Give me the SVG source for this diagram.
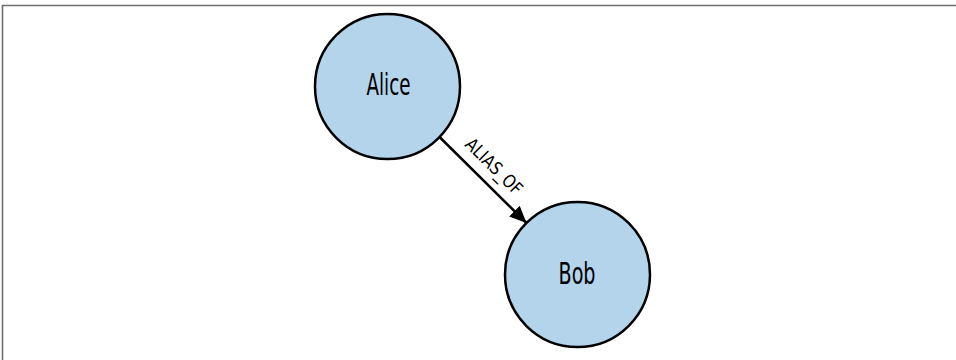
<svg xmlns="http://www.w3.org/2000/svg" width="956" height="360" viewBox="0 0 956 360">
  <style>
    .node circle { fill: #b3d4ea; stroke: #000; stroke-width: 2.5; }
    .node text { font-family: "Liberation Sans Narrow", "DejaVu Sans Condensed", "Liberation Sans", sans-serif; font-stretch: condensed; font-size: 30px; fill: #000; text-anchor: middle; }
    .edge line { stroke: #000; stroke-width: 2.5; }
    .edge text { font-family: "Liberation Sans Narrow", "DejaVu Sans Condensed", "Liberation Sans", sans-serif; font-stretch: condensed; font-size: 18px; fill: #000; text-anchor: middle; }
    .frame { stroke: #6e6e6e; stroke-width: 1.6; fill: none; }
  </style>
  <defs>
    <marker id="arrow" markerUnits="userSpaceOnUse" markerWidth="18" markerHeight="18" viewBox="0 0 18 18" refX="17" refY="9" orient="auto">
      <path d="M0,1.5 L17,9 L0,16.5 Z" fill="#000"/>
    </marker>
  </defs>
  <rect width="956" height="360" fill="#fff"/>
  <path class="frame" d="M2.5,360 V5.5 H956"/>
  <g id="connectors" class="edge">
    <line x1="439.5" y1="137" x2="526.5" y2="223" marker-end="url(#arrow)"/>
    <g transform="translate(483,179) rotate(44.7)">
      <text x="-1" y="-10.5" textLength="72" lengthAdjust="spacingAndGlyphs">ALIAS_OF</text>
    </g>
  </g>
  <g id="node-alice" class="node">
    <circle cx="387.5" cy="86.5" r="72.5"/>
    <text x="388.5" y="95" textLength="44" lengthAdjust="spacingAndGlyphs">Alice</text>
  </g>
  <g id="node-bob" class="node">
    <circle cx="577.5" cy="274.5" r="72.5"/>
    <text x="577" y="284" textLength="37" lengthAdjust="spacingAndGlyphs">Bob</text>
  </g>
</svg>
